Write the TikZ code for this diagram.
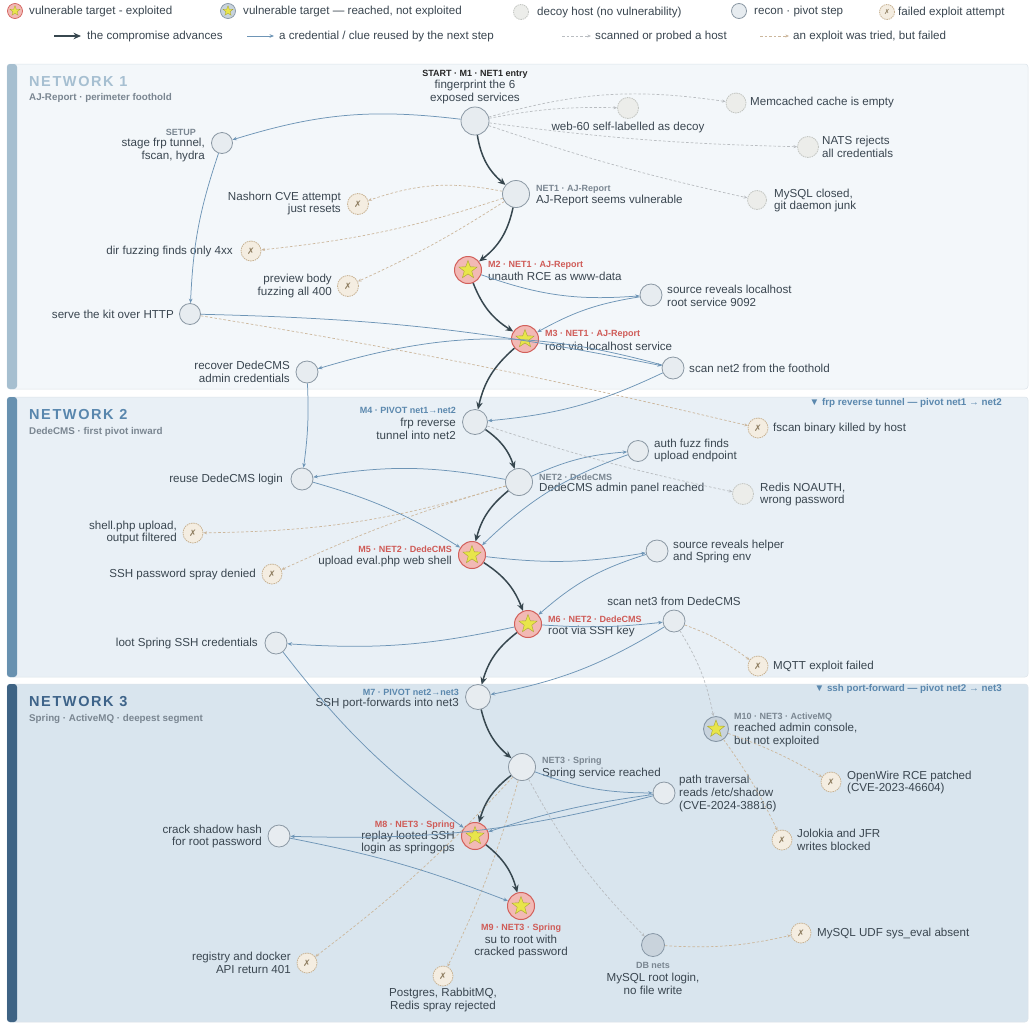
\documentclass[tikz,border=0pt]{standalone}
\usepackage{fontspec}
\setmainfont{Liberation Sans}
\newfontfamily\symf{DejaVu Sans}
\newfontfamily\titlef[LetterSpace=11]{Liberation Sans}
\usetikzlibrary{arrows.meta,shapes.geometric}
\definecolor{cText}{HTML}{3A4650}
\definecolor{cTag}{HTML}{7A8691}
\definecolor{cRed}{HTML}{CF5B57}
\definecolor{cBlue}{HTML}{5B88AE}
\definecolor{cAdv}{HTML}{37474F}
\definecolor{cCred}{HTML}{6E95B6}
\definecolor{cScan}{HTML}{B9BDC1}
\definecolor{cFailLn}{HTML}{CCB79C}
\definecolor{cRecon}{HTML}{8B98A4}
\definecolor{cReconF}{HTML}{E7ECF0}
\definecolor{cExpl}{HTML}{D2605B}
\definecolor{cExplF}{HTML}{F2B9B5}
\definecolor{cStar}{HTML}{E8E54A}
\definecolor{cStarD}{HTML}{A8A532}
\definecolor{cReachF}{HTML}{C8D3DD}
\definecolor{cReachD}{HTML}{8696A5}
\definecolor{cDecoy}{HTML}{C3C6C2}
\definecolor{cDecoyF}{HTML}{ECEDEA}
\definecolor{cFail}{HTML}{C8B394}
\definecolor{cFailF}{HTML}{F4EDE1}
\definecolor{cFailX}{HTML}{8C7B5E}
\definecolor{cDBF}{HTML}{C9D3DC}
\definecolor{nOneF}{HTML}{F3F7FA}
\definecolor{nOneB}{HTML}{A6BFD0}
\definecolor{nOneT}{HTML}{A6BFD1}
\definecolor{nTwoF}{HTML}{E9F0F6}
\definecolor{nTwoB}{HTML}{6891B0}
\definecolor{nTwoT}{HTML}{5886AD}
\definecolor{nThrF}{HTML}{D9E5EE}
\definecolor{nThrB}{HTML}{3E6384}
\definecolor{nThrT}{HTML}{3D6389}
\definecolor{panelB}{HTML}{DCE4EA}
\newcommand\fmain{\fontsize{11.6}{12.8}\selectfont}
\newcommand\flg{\fontsize{11.6}{13}\selectfont}
\newcommand\ftag{\fontsize{9}{10}\selectfont\bfseries}
\newcommand\fsub{\fontsize{9.8}{11}\selectfont\bfseries}
\tikzset{
 recon/.style={circle, draw=cRecon, fill=cReconF, line width=0.8pt, minimum size=22pt, inner sep=0pt},
 expl/.style={circle, draw=cExpl, fill=cExplF, line width=1pt, minimum size=27pt, inner sep=0pt},
 reached/.style={circle, draw=cReachD, fill=cReachF, line width=0.9pt, minimum size=25pt, inner sep=0pt},
 decoy/.style={circle, draw=cDecoy, fill=cDecoyF, line width=0.8pt, dash pattern=on 1.5pt off 0.8pt, minimum size=20pt, inner sep=0pt},
 failed/.style={circle, draw=cFail, fill=cFailF, line width=0.8pt, dash pattern=on 1.5pt off 0.8pt, minimum size=20pt, inner sep=0pt, text=cFailX, font=\symf\fontsize{9}{9}\selectfont},
 dbnode/.style={circle, draw=cReachD, fill=cDBF, line width=0.8pt, minimum size=23pt, inner sep=0pt},
 starsh/.style={star, star points=5, star point ratio=2.4, fill=cStar, draw=cStarD, line width=0.4pt, minimum size=19pt, inner sep=0pt},
 lblw/.style={inner sep=0pt, text=cText, font=\fmain, anchor=west, align=left},
 lble/.style={inner sep=0pt, text=cText, font=\fmain, anchor=east, align=right},
 lblc/.style={inner sep=0pt, text=cText, font=\fmain, anchor=center, align=center},
 tagw/.style={inner sep=0pt, text=cTag, font=\ftag, anchor=west},
 tage/.style={inner sep=0pt, text=cTag, font=\ftag, anchor=east},
 tagc/.style={inner sep=0pt, text=cTag, font=\ftag, anchor=center},
 redtag/.style={text=cRed},
 bluetag/.style={text=cBlue},
 lgt/.style={inner sep=0pt, text=cText, font=\flg, anchor=west},
 ttl/.style={inner sep=0pt, anchor=west, font=\titlef\bfseries\fontsize{14.5}{16}\selectfont},
 subt/.style={inner sep=0pt, anchor=west, text=cTag, font=\fsub},
 pivn/.style={inner sep=0pt, anchor=east, text=cBlue, font=\fsub},
 adv/.style={-{Stealth[length=7.5pt,width=6.5pt]}, draw=cAdv, line width=1.5pt},
 cred/.style={-{Stealth[length=4.5pt,width=3.6pt]}, draw=cCred, line width=0.75pt},
 scan/.style={-{Stealth[length=3.6pt,width=3pt]}, draw=cScan, line width=0.7pt, dash pattern=on 2.6pt off 2pt},
 fail/.style={-{Stealth[length=3.6pt,width=3pt]}, draw=cFailLn, line width=0.7pt, dash pattern=on 2.6pt off 2pt},
}
\begin{document}
\begin{tikzpicture}[x=1pt,y=1pt]
\useasboundingbox[fill=white] (0,0) rectangle (1030,-1023);

% ---------- panels ----------
\filldraw[fill=nOneF, draw=panelB, line width=0.5pt, rounded corners=3pt] (7,-64) rectangle (1028,-389);
\fill[nOneB, rounded corners=3pt] (7,-64) rectangle (17,-389);
\filldraw[fill=nTwoF, draw=panelB, line width=0.5pt, rounded corners=3pt] (7,-397) rectangle (1028,-677);
\fill[nTwoB, rounded corners=3pt] (7,-397) rectangle (17,-677);
\filldraw[fill=nThrF, draw=panelB, line width=0.5pt, rounded corners=3pt] (7,-684) rectangle (1028,-1022);
\fill[nThrB, rounded corners=3pt] (7,-684) rectangle (17,-1022);

\node[ttl, text=nOneT] (t1) at (29,-82) {NETWORK 1};
\node[subt] (s1) at (29,-98) {AJ-Report · perimeter foothold};
\node[ttl, text=nTwoT] (t2) at (29,-415) {NETWORK 2};
\node[subt] (s2) at (29,-432) {DedeCMS · first pivot inward};
\node[ttl, text=nThrT] (t3) at (29,-702) {NETWORK 3};
\node[subt] (s3) at (29,-719) {Spring · ActiveMQ · deepest segment};
\node[pivn] (pv1) at (1002,-403) {▼ frp reverse tunnel — pivot net1 → net2};
\node[pivn] (pv2) at (1002,-689) {▼ ssh port-forward — pivot net2 → net3};

% ---------- legend ----------
\node[expl, minimum size=15pt, line width=0.7pt] (lg1) at (15,-11) {};
\node[starsh, minimum size=10.5pt, line width=0.3pt] (lg1s) at (lg1) {};
\node[lgt] (lg1t) at (29,-11) {vulnerable target - exploited};
\node[reached, minimum size=15pt, line width=0.7pt] (lg2) at (228,-11) {};
\node[starsh, minimum size=10.5pt, line width=0.3pt] (lg2s) at (lg2) {};
\node[lgt] (lg2t) at (243,-11) {vulnerable target — reached, not exploited};
\node[decoy, minimum size=15pt] (lg3) at (521,-12) {};
\node[lgt] (lg3t) at (537,-12) {decoy host (no vulnerability)};
\node[recon, minimum size=15pt] (lg4) at (739,-11) {};
\node[lgt] (lg4t) at (754,-11) {recon · pivot step};
\node[failed, minimum size=15pt, font=\symf\fontsize{7}{7}\selectfont] (lg5) at (887,-12) {✗};
\node[lgt] (lg5t) at (898,-12) {failed exploit attempt};
\coordinate (la1) at (54,-36); \coordinate (lb1) at (81,-36);
\draw[adv] (la1) -- (lb1);
\node[lgt] (lr1) at (87,-36) {the compromise advances};
\coordinate (la2) at (247,-36); \coordinate (lb2) at (274,-36);
\draw[cred] (la2) -- (lb2);
\node[lgt] (lr2) at (279,-36) {a credential / clue reused by the next step};
\coordinate (la3) at (562,-36); \coordinate (lb3) at (591,-36);
\draw[scan] (la3) -- (lb3);
\node[lgt] (lr3) at (595,-36) {scanned or probed a host};
\coordinate (la4) at (760,-36); \coordinate (lb4) at (789,-36);
\draw[fail] (la4) -- (lb4);
\node[lgt] (lr4) at (793,-36) {an exploit was tried, but failed};

% ---------- nodes ----------
\node[recon, minimum size=28pt] (m1) at (475,-121) {};
\node[recon, minimum size=21pt] (setup) at (222,-143) {};
\node[decoy, minimum size=21pt] (web) at (628,-108) {};
\node[decoy] (memc) at (736,-103) {};
\node[decoy, minimum size=21pt] (nats) at (808,-147) {};
\node[decoy, minimum size=19pt] (mysqlc) at (757,-200) {};
\node[recon, minimum size=27pt] (net1) at (516,-194) {};
\node[failed, minimum size=21pt] (nash) at (358,-204) {✗};
\node[failed] (dirf) at (251,-251) {✗};
\node[failed, minimum size=21pt] (prev) at (348,-286) {✗};
\node[expl] (m2) at (468,-270) {};
\node[starsh] (m2s) at (m2) {};
\node[recon] (srcl) at (651,-295) {};
\node[recon, minimum size=21pt] (serve) at (190,-314) {};
\node[expl] (m3) at (525,-339) {};
\node[starsh] (m3s) at (m3) {};
\node[recon] (scan2) at (673,-368) {};
\node[recon] (recov) at (307,-372) {};
\node[failed] (fscan) at (758,-428) {✗};
\node[recon, minimum size=25pt] (m4) at (475,-422) {};
\node[recon, minimum size=21pt] (authf) at (638,-451) {};
\node[recon] (reuse) at (302,-479) {};
\node[recon, minimum size=27pt] (net2) at (519,-482) {};
\node[decoy, minimum size=21pt] (redis) at (743,-494) {};
\node[failed] (shell) at (193,-533) {✗};
\node[expl] (m5) at (472,-555) {};
\node[starsh] (m5s) at (m5) {};
\node[recon] (helper) at (657,-551) {};
\node[failed] (ssh) at (272,-574) {✗};
\node[expl] (m6) at (528,-624) {};
\node[starsh] (m6s) at (m6) {};
\node[recon] (scan3) at (674,-621) {};
\node[recon] (loot) at (276,-643) {};
\node[failed] (mqtt) at (758,-666) {✗};
\node[recon, minimum size=25pt] (m7) at (478,-697) {};
\node[reached] (m10) at (716,-729) {};
\node[starsh, minimum size=18pt] (m10s) at (m10) {};
\node[recon, minimum size=27pt] (net3) at (522,-767) {};
\node[recon] (path) at (664,-793) {};
\node[failed] (openw) at (831,-782) {✗};
\node[recon] (crack) at (279,-836) {};
\node[expl] (m8) at (475,-836) {};
\node[starsh] (m8s) at (m8) {};
\node[failed] (jolo) at (782,-840) {✗};
\node[expl] (m9) at (521,-906) {};
\node[starsh] (m9s) at (m9) {};
\node[dbnode] (dbn) at (653,-945) {};
\node[failed] (udf) at (801,-933) {✗};
\node[failed] (reg) at (307,-963) {✗};
\node[failed] (pg) at (443,-976) {✗};

% ---------- labels ----------
\node[tagc, text=black!85] (m1g) at (475,-74) {START · M1 · NET1 entry};
\node[lblc] (m1l) at (475,-92) {fingerprint the 6\\exposed services};
\node[tage] (setupg) at (196,-132) {SETUP};
\node[lble] (setupl) at (205,-150) {stage frp tunnel,\\fscan, hydra};
\node[lblc] (webl) at (628,-127) {web-60 self-labelled as decoy};
\node[lblw] (memcl) at (750,-102) {Memcached cache is empty};
\node[lblw] (natsl) at (822,-146.5) {NATS rejects\\all credentials};
\node[lblw] (mysqlcl) at (774,-200.5) {MySQL closed,\\git daemon junk};
\node[tagw] (net1g) at (536,-189) {NET1 · AJ-Report};
\node[lblw] (net1l) at (536,-200) {AJ-Report seems vulnerable};
\node[lble] (nashl) at (341,-203.5) {Nashorn CVE attempt\\just resets};
\node[lble] (dirfl) at (233,-251) {dir fuzzing finds only 4xx};
\node[lble] (prevl) at (332,-286) {preview body\\fuzzing all 400};
\node[tagw, redtag] (m2g) at (488,-265) {M2 · NET1 · AJ-Report};
\node[lblw] (m2l) at (488,-276.5) {unauth RCE as www-data};
\node[lblw] (srcll) at (667,-295.5) {source reveals localhost\\root service 9092};
\node[lble] (servel) at (174,-314) {serve the kit over HTTP};
\node[tagw, redtag] (m3g) at (545,-334) {M3 · NET1 · AJ-Report};
\node[lblw] (m3l) at (545,-346) {root via localhost service};
\node[lblw] (scan2l) at (689,-368) {scan net2 from the foothold};
\node[lble] (recovl) at (290,-371.5) {recover DedeCMS\\admin credentials};
\node[lblw] (fscanl) at (773,-428) {fscan binary killed by host};
\node[tage, bluetag] (m4g) at (456,-410) {M4 · PIVOT net1→net2};
\node[lble] (m4l) at (456,-428.5) {frp reverse\\tunnel into net2};
\node[lblw] (authfl) at (654,-450.5) {auth fuzz finds\\upload endpoint};
\node[lble] (reusel) at (283,-479) {reuse DedeCMS login};
\node[tagw] (net2g) at (539,-477) {NET2 · DedeCMS};
\node[lblw] (net2l) at (539,-488) {DedeCMS admin panel reached};
\node[lblw] (redisl) at (760,-494.5) {Redis NOAUTH,\\wrong password};
\node[lble] (shelll) at (177,-532.5) {shell.php upload,\\output filtered};
\node[tage, redtag] (m5g) at (452,-549) {M5 · NET2 · DedeCMS};
\node[lble] (m5l) at (452,-561) {upload eval.php web shell};
\node[lblw] (helperl) at (673,-551.5) {source reveals helper\\and Spring env};
\node[lble] (sshl) at (256,-574) {SSH password spray denied};
\node[tagw, redtag] (m6g) at (548,-619) {M6 · NET2 · DedeCMS};
\node[lblw] (m6l) at (548,-631) {root via SSH key};
\node[lblc] (scan3l) at (674,-601) {scan net3 from DedeCMS};
\node[lble] (lootl) at (258,-643) {loot Spring SSH credentials};
\node[lblw] (mqttl) at (773,-666) {MQTT exploit failed};
\node[tage, bluetag] (m7g) at (459,-692) {M7 · PIVOT net2→net3};
\node[lble] (m7l) at (459,-703) {SSH port-forwards into net3};
\node[tagw] (m10g) at (734,-717) {M10 · NET3 · ActiveMQ};
\node[lblw] (m10l) at (734,-735) {reached admin console,\\but not exploited};
\node[tagw] (net3g) at (542,-761) {NET3 · Spring};
\node[lblw] (net3l) at (542,-773) {Spring service reached};
\node[lblw] (pathl) at (679,-793.5) {path traversal\\reads /etc/shadow\\(CVE-2024-38816)};
\node[lblw] (openwl) at (847,-782.5) {OpenWire RCE patched\\(CVE-2023-46604)};
\node[lble] (crackl) at (262,-836.5) {crack shadow hash\\for root password};
\node[tage, redtag] (m8g) at (455,-825) {M8 · NET3 · Spring};
\node[lble] (m8l) at (455,-842.5) {replay looted SSH\\login as springops};
\node[lblw] (jolol) at (797,-839.5) {Jolokia and JFR\\writes blocked};
\node[tagc, redtag] (m9g) at (521,-928) {M9 · NET3 · Spring};
\node[lblc] (m9l) at (521,-946.5) {su to root with\\cracked password};
\node[tagc] (dbng) at (653,-965) {DB nets};
\node[lblc] (dbnl) at (653,-983.5) {MySQL root login,\\no file write};
\node[lblw] (udfl) at (817,-933) {MySQL UDF sys\_eval absent};
\node[lble] (regl) at (291,-963) {registry and docker\\API return 401};
\node[lblc] (pgl) at (443,-1000) {Postgres, RabbitMQ,\\Redis spray rejected};

% ---------- scanned (grey dashed) ----------
\draw[scan] (m1) to[bend left=6] (web);
\draw[scan] (m1) to[bend left=12] (memc);
\draw[scan] (m1) to[bend right=3] (nats);
\draw[scan] (m1) to[bend right=3] (mysqlc);
\draw[scan] (m4) to[bend right=3] (redis);
\draw[scan] (scan3) to[bend left=10] (m10);
\draw[scan] (net3) to[bend right=8] (dbn);

% ---------- failed (tan dashed) ----------
\draw[fail] (net1) to[bend right=15] (nash);
\draw[fail] (net1) to[bend left=6] (dirf);
\draw[fail] (net1) to[bend left=4] (prev);
\draw[fail] (serve) to[bend left=2] (fscan);
\draw[fail] (net2) to[bend left=8] (shell);
\draw[fail] (net2) to[bend right=4] (ssh);
\draw[fail] (scan3) to[bend left=8] (mqtt);
\draw[fail] (m10) to[bend left=5] (openw);
\draw[fail] (m10) to[bend left=5] (jolo);
\draw[fail] (net3) to[bend left=5] (reg);
\draw[fail] (net3) to[bend left=5] (pg);
\draw[fail] (dbn) to[bend right=8] (udf);

% ---------- credentials (blue) ----------
\draw[cred] (m1) to[bend right=12] (setup);
\draw[cred] (setup) to[bend right=8] (serve);
\draw[cred] (serve) to[bend left=5] (scan2);
\draw[cred] (m2) to[bend right=12] (srcl);
\draw[cred] (srcl) to[bend right=10] (m3);
\draw[cred] (scan2) to[bend right=16] (recov);
\draw[cred] (recov) to[bend left=5] (reuse);
\draw[cred] (scan2) to[bend left=10] (m4);
\draw[cred] (net2) to[bend right=10] (reuse);
\draw[cred] (reuse) to[bend left=8] (m5);
\draw[cred] (net2) to[bend left=10] (authf);
\draw[cred] (authf) to[bend right=12] (m5);
\draw[cred] (m5) to[bend right=8] (helper);
\draw[cred] (helper) to[bend right=12] (m6);
\draw[cred] (m6) to[bend right=5] (scan3);
\draw[cred] (m6) to[bend left=8] (loot);
\draw[cred] (loot) to[bend right=8] (m8);
\draw[cred] (scan3) to[bend left=10] (m7);
\draw[cred] (net3) to[bend right=10] (path);
\draw[cred] (path) to[bend right=5] (m8);
\draw[cred] (path) to[bend left=8] (crack);
\draw[cred] (crack) to[bend left=5] (m9);

% ---------- compromise advances (dark) ----------
\draw[adv] (m1) to[bend right=20] (net1);
\draw[adv] (net1) to[bend left=20] (m2);
\draw[adv] (m2) to[bend right=18] (m3);
\draw[adv] (m3) to[bend right=18] (m4);
\draw[adv] (m4) to[bend left=18] (net2);
\draw[adv] (net2) to[bend right=18] (m5);
\draw[adv] (m5) to[bend left=18] (m6);
\draw[adv] (m6) to[bend right=18] (m7);
\draw[adv] (m7) to[bend right=18] (net3);
\draw[adv] (net3) to[bend right=18] (m8);
\draw[adv] (m8) to[bend left=18] (m9);
\end{tikzpicture}
\end{document}
